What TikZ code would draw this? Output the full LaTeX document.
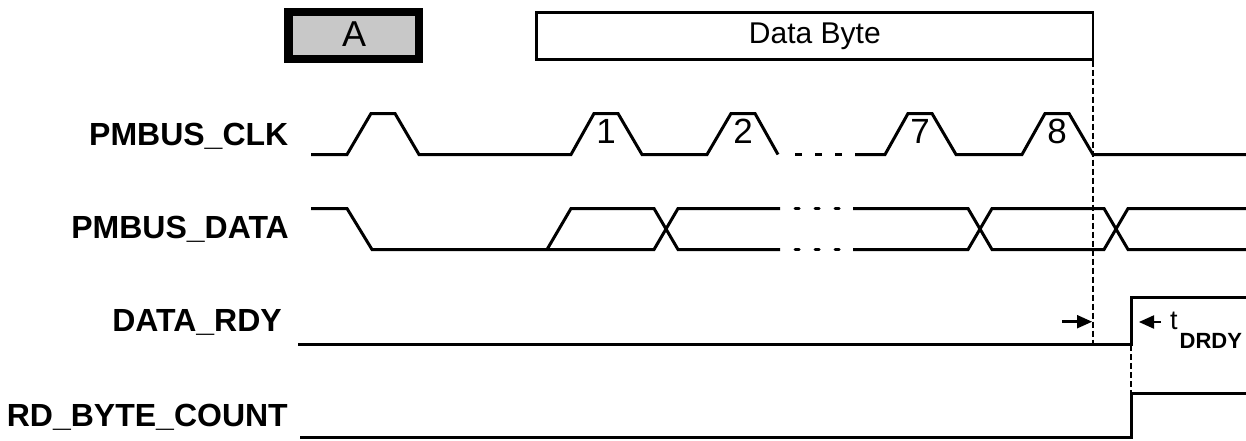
\documentclass[tikz,border=0pt]{standalone}
\usepackage{fontspec}
\setmainfont{Liberation Sans}
\usetikzlibrary{arrows.meta}
\definecolor{boxgray}{HTML}{C8C8C8}
\tikzset{
  sig/.style={line width=3pt, line join=miter},
  sigdash/.style={line width=3pt, dash pattern=on 7pt off 13pt},
  sigdot/.style={line width=3pt, line cap=round, dash pattern=on 4pt off 16pt},
  guide/.style={line width=2pt, dash pattern=on 6pt off 3pt},
  lbl/.style={font=\fontsize{32}{36}\selectfont\bfseries, anchor=base east, inner sep=0pt},
  num/.style={font=\fontsize{35}{38}\selectfont, inner sep=0pt},
  dimline/.style={line width=2.8pt, shorten >=9pt},
}
\begin{document}
\begin{tikzpicture}[x=1pt,y=-1pt]
\useasboundingbox (0,0) rectangle (1246,440);

% header boxes
\node[draw, line width=8.3pt, fill=boxgray, minimum width=130.5pt, minimum height=47pt, inner sep=0pt] (boxA) at (353.75,35.7) {};
\node[font=\fontsize{36}{40}\selectfont, inner sep=0pt] (txtA) at (354,33.7) {A};
\node[draw, line width=2.8pt, minimum width=556.3pt, minimum height=47.3pt, inner sep=0pt, font=\fontsize{30}{34}\selectfont] (DB) at (814.85,35.8) {Data Byte};

% labels
\node[lbl] (lclk) at (288.5,145) {PMBUS\_CLK};
\node[lbl] (ldata) at (289,238.3) {PMBUS\_DATA};
\node[lbl] (lrdy) at (282,331.7) {DATA\_RDY};
\node[lbl] (lcnt) at (288,426.7) {RD\_BYTE\_COUNT};

% PMBUS_CLK
\draw[sig] (311,154.5) -- (347,154.5) -- (371,113.5) -- (395,113.5) -- (419,154.5)
  -- (571,154.5) -- (594,113.5) -- (618,113.5) -- (642,154.5)
  -- (707,154.5) -- (731,113.5) -- (755,113.5) -- (778,154.5);
\draw[sigdash] (795,154.5) -- (845,154.5);
\draw[sig] (855,154.5) -- (885,154.5) -- (908,113.5) -- (932,113.5) -- (956,154.5)
  -- (1022,154.5) -- (1045,113.5) -- (1069,113.5) -- (1093,154.5) -- (1246,154.5);
\node[num] (n1) at (606,131.5) {1};
\node[num] (n2) at (743,131.5) {2};
\node[num] (n7) at (920,131.5) {7};
\node[num] (n8) at (1057,131.5) {8};

% PMBUS_DATA
\draw[sig] (311,208.5) -- (347,208.5) -- (372,249.5) -- (654,249.5) -- (678,208.5) -- (780,208.5);
\draw[sig] (547,249.5) -- (571,208.5) -- (654,208.5) -- (678,249.5) -- (780,249.5);
\draw[sigdot] (795,208.5) -- (845,208.5);
\draw[sigdot] (795,249.5) -- (845,249.5);
\draw[sig] (853,208.5) -- (968,208.5) -- (992,249.5) -- (1104,249.5) -- (1128,208.5) -- (1246,208.5);
\draw[sig] (853,249.5) -- (968,249.5) -- (992,208.5) -- (1104,208.5) -- (1128,249.5) -- (1246,249.5);

% DATA_RDY
\draw[sig] (298,344.3) -- (1131,344.3) -- (1131,297.7) -- (1246,297.7);
% RD_BYTE_COUNT
\draw[sig] (300,437.5) -- (1131,437.5) -- (1131,393.3) -- (1246,393.3);

% guides
\coordinate (g1top) at (1093,60.5);
\coordinate (g1bot) at (1093,343);
\coordinate (g2top) at (1131,345);
\coordinate (g2bot) at (1131,393);
\draw[guide] (g1top) -- (g1bot);
\draw[guide] (g2top) -- (g2bot);

% timing arrows
\coordinate (a1s) at (1062,321.7);
\coordinate (a1e) at (1092,321.7);
\coordinate (a2s) at (1161,322);
\coordinate (a2e) at (1139,322);
\draw[dimline] (a1s) -- (a1e);
\fill (a1e) -- ++(-15,-6.8) -- ++(0,13.6) -- cycle;
\draw[dimline] (a2s) -- (a2e);
\fill (a2e) -- ++(15,-6.8) -- ++(0,13.6) -- cycle;
\node[anchor=base west, inner sep=0pt, font=\fontsize{27}{30}\selectfont] (tsym) at (1170,329) {t};
\node[anchor=base west, inner sep=0pt, font=\fontsize{22}{24}\selectfont\bfseries] (tsub) at (1179.5,348) {DRDY};
\end{tikzpicture}
\end{document}
